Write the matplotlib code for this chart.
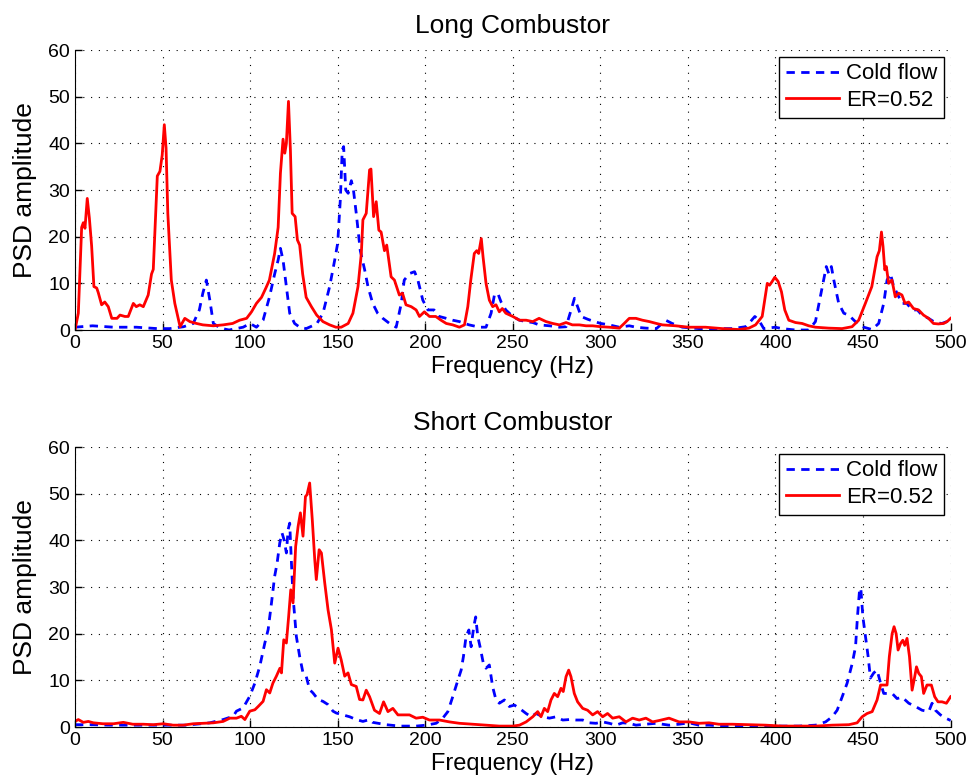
import numpy as np
import matplotlib
matplotlib.use('Agg')
import matplotlib.pyplot as plt

plt.rcParams.update({'font.family': 'Liberation Sans',
                     'xtick.labelsize': 14,
                     'ytick.labelsize': 14})

# (frequency Hz, PSD amplitude)
cold_long = [(0, 0.6), (10, 0.9), (22, 0.6), (35, 0.6), (47, 0.3), (54, 0.3), (62, 0.7), (67.5, 1.4),
             (71, 4.3), (73, 7.9), (75, 10.7), (77, 6.4), (79, 1.4), (83, 0.4), (88, 0.0), (96, 0.6),
             (100, 1.4), (103.6, 0.6), (107.4, 2.1), (111, 7.0), (114, 12.0), (116, 15.0), (117.3, 17.5),
             (118.8, 15.0), (120.7, 9.3), (122.6, 3.6), (125.4, 1.4), (128.3, 0.6), (132, 0.3), (138, 1.3),
             (141.6, 3.6), (145.4, 9.3), (148.3, 15.0), (150, 18.6), (151.5, 27.9), (152.6, 38.6),
             (153.4, 39.3), (154.6, 30.0), (156, 29.3), (157.8, 32.0), (159, 30.0), (160.6, 25.0),
             (162.9, 17.0), (165.4, 12.9), (167.3, 9.3), (170, 5.7), (172.8, 3.6), (175.8, 2.5),
             (179.6, 1.4), (183.4, 0.6), (186.3, 5.7), (188, 10.7), (191, 12.1), (193.9, 12.5),
             (195.8, 10.7), (198.6, 6.4), (201.5, 4.3), (205, 4.3), (208, 2.9), (212, 2.5), (215.7, 2.1),
             (219.5, 1.8), (225, 1.1), (231, 0.6), (234.7, 0.6), (237.6, 3.6), (239.5, 7.5), (241.4, 7.9),
             (243.3, 6.0), (246, 4.3), (250, 2.9), (253.8, 2.1), (257.6, 1.8), (261.4, 1.6), (265, 1.1),
             (271, 0.9), (276.6, 0.6), (280.4, 0.7), (283.3, 4.3), (285.2, 6.8), (287, 5.0), (289, 2.9),
             (292.8, 2.3), (296.6, 1.8), (300.3, 1.4), (305, 1.1), (310.8, 0.6), (316.5, 0.9),
             (320.3, 0.6), (326, 0.4), (332, 0.3), (337.3, 2.1), (341, 1.4), (346.8, 0.6), (356.3, 0.3),
             (365.8, 0.3), (375.3, 0.3), (382.9, 0.7), (385.7, 1.8), (388.2, 2.9), (390.5, 2.1),
             (393.3, 0.3), (399.9, 0.6), (403.7, 0.3), (411.4, 0.0), (419, 0.0), (422.8, 1.8),
             (425.6, 7.1), (427.5, 10.7), (429, 13.6), (430.4, 12.1), (431.9, 13.6), (433.3, 10.7),
             (436.1, 5.7), (439, 3.6), (441.8, 3.2), (445.6, 1.8), (450.4, 0.6), (455.1, 0.1),
             (458.9, 1.4), (461.8, 5.7), (463.7, 10.7), (465.6, 12.1), (467.5, 9.3), (469.4, 7.9),
             (472.2, 5.7), (475, 5.7), (478, 4.3), (481, 4.3), (483.6, 3.2), (487.4, 2.5), (491.2, 1.6),
             (495, 1.4), (500, 2.1)]

hot_long = [(0, 0), (1.9, 3.6), (3.8, 22), (4.75, 23), (5.7, 21.8), (7, 28.2), (8.2, 24), (9.5, 18),
            (10.8, 9.3), (12.4, 9), (13.3, 8), (15.2, 5.4), (17, 6), (19, 5), (21, 2.5), (24, 2.5),
            (25.7, 3.2), (28.5, 2.9), (30.4, 2.9), (33.3, 5.7), (35, 5), (37, 5.4), (39, 5), (41.8, 7.5),
            (43.7, 12), (44.7, 13), (47, 33), (48.5, 34), (49.8, 37.5), (51, 44), (52, 39), (53, 25),
            (55, 10.7), (57, 5.7), (60, 0.7), (62.7, 2.5), (65.6, 1.8), (69.4, 1.4), (73, 1.1), (79, 0.9),
            (84.6, 1.1), (90, 1.4), (94, 2.1), (98, 2.5), (100.8, 3.9), (103.6, 5.7), (106.5, 7), (109, 9),
            (111, 10.7), (114, 16.4), (116, 22), (117.3, 33.6), (118.8, 40.9), (119.8, 37.9), (120.7, 40),
            (121.9, 49), (123, 38.6), (124, 25), (125.7, 24.3), (127, 19.3), (128.3, 18.2), (130, 12),
            (132, 7), (135, 5), (138, 3.2), (141.6, 1.8), (145.4, 1.1), (149, 0.6), (152, 0.6), (156, 1.4),
            (158.7, 3.6), (161.6, 9.3), (163.5, 16.4), (164.4, 23.6), (166.3, 25), (168.2, 34.3),
            (169, 34.5), (170.5, 24.3), (172, 27.5), (173.5, 21.4), (174.8, 21), (176.7, 17), (178, 18.2),
            (180.5, 11.4), (182.4, 10.7), (185.2, 7.5), (187, 7.9), (189, 5.4), (192, 5), (194.8, 4.3),
            (196.7, 2.9), (199.5, 3.9), (202.4, 2.9), (206, 2.9), (209, 2.1), (212, 1.4), (215.7, 1.1),
            (219.5, 0.6), (222.4, 1.1), (224.3, 5), (226, 10.7), (228, 16.4), (229.4, 17), (230.5, 16.4),
            (232, 19.6), (233, 15.7), (234.7, 10), (236.6, 6.4), (238.5, 5), (240.4, 5.4), (242.3, 3.9),
            (244, 4.6), (246, 3.6), (250, 2.9), (253.8, 2.1), (257.6, 2.1), (261.4, 1.8), (265, 2.5),
            (269, 1.8), (272.8, 1.4), (276.6, 1.1), (280.4, 1.6), (284, 1.1), (288, 1.1), (291.8, 0.9),
            (295.6, 0.9), (300.3, 0.7), (305, 0.6), (310.8, 0.4), (313.6, 1.4), (316.5, 2.5),
            (320.3, 2.5), (324, 2.1), (328, 1.8), (332, 1.4), (335.4, 1.1), (343, 0.9), (350.5, 0.6),
            (360, 0.6), (369.6, 0.3), (379, 0.1), (384.8, 0.4), (388.6, 1.1), (392.4, 2.9), (395.3, 10),
            (396.6, 9.6), (398.1, 10.4), (399.6, 11.3), (401.5, 10.4), (403.4, 8.2), (405.3, 4.3),
            (407.6, 2.1), (411.4, 1.6), (415.2, 1.4), (419, 0.9), (422.8, 0.6), (430.4, 0.4), (438, 0.3),
            (443.7, 0.7), (447.5, 2.1), (451.3, 5.7), (455, 9.3), (458, 15.7), (459.3, 17), (460.5, 21),
            (461.4, 17.9), (462.4, 12.9), (463.3, 13.6), (464.6, 10), (466.5, 10.7), (468.4, 7.1),
            (470.3, 7.9), (472.2, 7.5), (474, 5.7), (476, 6), (478.8, 4.6), (481.7, 4.3), (484.5, 3.2),
            (487.4, 2.5), (490.2, 1.4), (493, 1.3), (496, 1.4), (498, 1.8), (500, 2.5)]

cold_short = [(0, 0.5), (8.5, 0.5), (20, 0.4), (35, 0.4), (50.4, 0.4), (63.7, 0.4), (77, 0.9), (84.6, 1.6),
              (90.3, 2.3), (92.2, 3.4), (96, 4.1), (99.8, 6.6), (102.7, 9.4), (105.5, 13), (108.4, 18),
              (110.3, 20.9), (112.2, 26.6), (114, 32.3), (115.4, 35.1), (116.9, 39.4), (118.2, 41.6),
              (119.4, 40.1), (120.7, 37.3), (121.7, 42.3), (122.6, 43.7), (123.6, 35.1), (124.5, 28),
              (126.4, 19.4), (128.3, 15.1), (130.2, 11.6), (132, 10.9), (134, 8), (135.9, 7.3),
              (138.8, 5.9), (141.6, 5.5), (144.5, 4.8), (147.3, 3.4), (149.2, 3), (153, 2.6), (156.8, 2.2),
              (160.6, 1.6), (164.4, 1.2), (168.2, 1.6), (170, 1.0), (177.7, 0.5), (185.3, 0.2),
              (194.8, 0.2), (200.5, 0.4), (206.2, 0.8), (210, 1.9), (212.9, 3.3), (215.7, 6.5),
              (218.6, 10), (220.5, 12.2), (221.8, 15.1), (223.3, 19.4), (224.9, 20.8), (226.2, 17.2),
              (227.7, 21.5), (228.8, 23.6), (230, 19.4), (231.3, 17.2), (233.2, 13.6), (234.7, 12.6),
              (236.6, 13.3), (238.5, 8.6), (240.4, 5.8), (242.3, 5.1), (245.2, 5.8), (248, 4.4),
              (250.9, 4.7), (253.8, 4), (257.6, 2.9), (260.4, 2.2), (263.3, 2.9), (267.1, 2.2),
              (270.9, 1.9), (274.7, 2.2), (278.5, 1.5), (282.3, 1.6), (286.1, 1.5), (289.9, 1.5),
              (293.7, 0.9), (297.5, 0.8), (301.3, 1.1), (305.1, 0.8), (308.9, 0.4), (312.7, 0.9),
              (316.5, 0.8), (320.3, 0.4), (326, 0.6), (331.7, 0.8), (339.2, 0.4), (344.9, 0.6),
              (350.6, 0.9), (356.3, 0.4), (362, 0.4), (371.5, 0.2), (384.8, 0.2), (400, 0.2),
              (413.4, 0.2), (422.9, 0.4), (428.6, 1.1), (432.4, 2.2), (435.2, 3.6), (438.1, 6.5),
              (440.9, 9.4), (443.8, 13.6), (445.7, 17.2), (446.8, 23.6), (448, 29.4), (448.7, 29.8),
              (449.9, 23.6), (451.4, 19.4), (452.9, 15.1), (454.2, 10.5), (456.1, 11.6), (458, 12.2),
              (460, 9.4), (461.8, 7.2), (463.7, 7.2), (466.6, 7.2), (469.4, 6.1), (472.3, 6.4),
              (476.1, 5.1), (479.9, 4.4), (483.7, 3.6), (487.5, 3.3), (489.4, 5.1), (491.3, 3.6),
              (494.2, 2.6), (497.2, 1.9), (500, 1.4)]

hot_short = [(0, 1.2), (1.9, 1.6), (4.75, 1), (7.6, 1.2), (10.5, 0.9), (16, 0.7), (22, 0.7), (27.6, 1),
             (33, 0.6), (39, 0.6), (44.7, 0.5), (50.4, 0.7), (56, 0.4), (61.8, 0.4), (67.5, 0.7),
             (73.2, 0.8), (79, 0.9), (84.6, 1.2), (88.4, 1.9), (92.2, 1.9), (95, 2.3), (97, 1.6),
             (99.8, 3.4), (102.7, 3.7), (104.6, 4.4), (107.4, 5.5), (109.3, 8), (111.2, 7.3), (113, 9.4),
             (115, 10.9), (117, 12.6), (117.9, 11.6), (119.2, 18.7), (120.7, 18), (122, 23.7),
             (123.2, 29.4), (124.5, 26.6), (126, 38.7), (127.4, 43), (128.7, 45.9), (130.2, 40.9),
             (131.6, 49.4), (132.5, 49.8), (134, 52.3), (135.5, 44.4), (136.9, 35.9), (137.8, 31.6),
             (139.4, 38), (140.7, 37.3), (142.6, 30.9), (144.5, 25.1), (146.4, 20.9), (148.3, 13.7),
             (150.2, 16.9), (152, 14.4), (154, 10.9), (155.9, 11.6), (157.8, 9.1), (160.6, 8.7),
             (162.5, 5.9), (164.4, 5.8), (166.3, 7.9), (168.2, 6.5), (171, 3.6), (173.9, 2.9),
             (176.2, 5.4), (178.7, 3.3), (181.5, 4), (184.4, 2.6), (187.2, 2.6), (191, 2.6), (194.8, 1.9),
             (198.6, 2.1), (202.4, 1.5), (208.1, 1.5), (213.8, 1.1), (219.5, 0.8), (227.1, 0.6),
             (234.7, 0.4), (242.3, 0.2), (250, 0.2), (253.8, 0.4), (257.6, 1.1), (261.4, 2.2),
             (264.2, 3.3), (266.1, 2.2), (268, 4), (269.9, 3.3), (271.8, 5.8), (273.7, 7.2), (275.6, 6.5),
             (277.5, 8.3), (278.8, 7.6), (280.4, 10.8), (281.9, 12.2), (283.2, 10.8), (285.1, 7.2),
             (287, 5.4), (289.9, 4), (292.7, 3.6), (295.6, 2.6), (298.4, 3.3), (301.3, 2.2), (304.1, 2.9),
             (307, 1.9), (310.8, 2.2), (314.6, 1.1), (318.4, 1.9), (322.2, 1.5), (326, 1.9), (329.8, 1.1),
             (333.6, 1.4), (339.2, 1.9), (344.9, 1.1), (350.6, 1.1), (356.3, 0.8), (362, 0.9),
             (367.7, 0.6), (375.3, 0.6), (384.8, 0.5), (394.3, 0.4), (403.8, 0.2), (413.4, 0.2),
             (422.9, 0.2), (432.4, 0.4), (441.9, 0.5), (446.6, 0.9), (449.5, 2.2), (452.3, 2.9),
             (455.2, 3.3), (458, 5.8), (460, 9), (461.8, 9), (463.7, 9), (465, 15.1), (466.6, 20),
             (467.7, 21.5), (468.9, 20), (470, 16.5), (471.4, 17.9), (472.7, 18.6), (473.8, 17.5),
             (475.1, 19), (476.5, 15.1), (478, 7.9), (479.5, 10.8), (480.5, 12.9), (481.8, 11.5),
             (483.3, 10.8), (484.6, 7.2), (486.5, 9), (489, 9), (490.9, 6.5), (492.8, 5.4), (495.1, 5.4),
             (497.6, 5.1), (500, 6.5)]

titles = ['Long Combustor', 'Short Combustor']
labels = ['Cold flow', 'ER=0.52']

fig = plt.figure(figsize=(9.74, 7.82), dpi=100)
ax1 = fig.add_axes([0.077, 0.578, 0.899, 0.358])
ax2 = fig.add_axes([0.077, 0.0703, 0.899, 0.358])

for ax, title, cold, hot in [(ax1, titles[0], cold_long, hot_long),
                             (ax2, titles[1], cold_short, hot_short)]:
    c = np.array(cold)
    h = np.array(hot)
    ax.plot(c[:, 0], c[:, 1], color='b', lw=2, ls=(0, (3, 2.3)), label=labels[0])
    ax.plot(h[:, 0], h[:, 1], color='r', lw=2, label=labels[1])
    ax.set_xlim(0, 500)
    ax.set_ylim(0, 60)
    ax.set_xticks(np.arange(0, 501, 50))
    ax.set_yticks(np.arange(0, 61, 10))
    ax.grid(True, color='k', ls=(0, (1, 6)), lw=0.8)
    ax.spines['top'].set_visible(False)
    ax.spines['right'].set_visible(False)
    ax.tick_params(direction='in', length=5, width=1, top=False, right=False)
    ax.set_xlabel('Frequency (Hz)', fontsize=17, labelpad=3)
    ax.set_ylabel('PSD amplitude', fontsize=19, labelpad=8)
    ax.set_title(title, fontsize=19, pad=12)
    leg = ax.legend(loc='upper right', fontsize=16, fancybox=False, edgecolor='k',
                    framealpha=1, borderaxespad=0.3, handlelength=2.4,
                    borderpad=0.3, labelspacing=0.25, handletextpad=0.3)
    leg.get_frame().set_linewidth(1)

plt.savefig('out.png', dpi=100)
